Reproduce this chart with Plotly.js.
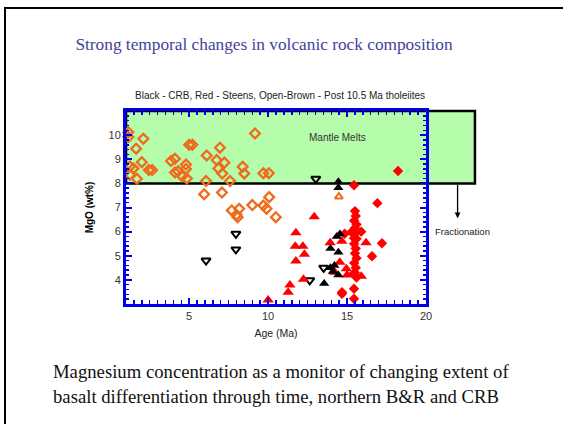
<!DOCTYPE html>
<html>
<head>
<meta charset="utf-8">
<script src="https://cdn.plot.ly/plotly-3.0.1.min.js"></script>
<style>
html,body{margin:0;padding:0;background:#fff;}
#frame{position:absolute;left:4px;top:7px;width:600px;height:500px;border-left:2.5px solid #000;border-top:2.5px solid #000;pointer-events:none;z-index:5;}
#chart{position:absolute;left:0;top:0;width:563px;height:424px;}
</style>
</head>
<body>
<div id="chart"></div>
<div id="frame"></div>
<script>
// ---- Data ----
// Post 10.5 Ma tholeiites (open brown/orange diamonds)
var postAge = [1.15,1.15,2.1,1.64,1.25,1.47,1.25,1.69,2.0,2.45,2.65,3.85,4.1,5.0,5.2,6.11,4.8,4.8,4.1,4.3,4.55,4.85,6.07,6.74,6.95,7.23,6.85,7.1,7.59,8.39,8.49,9.17,9.7,10.05,
               5.95,7.08,7.7,8.0,8.17,8.07,9.0,9.7,9.9,10.07,10.49];
var postMgO = [10.12,9.92,9.85,9.44,8.7,8.62,8.36,8.19,8.88,8.55,8.55,8.93,9.02,9.6,9.6,9.16,8.78,8.6,8.45,8.5,8.3,8.2,8.1,8.97,9.48,8.86,8.62,8.41,8.1,8.69,8.41,10.07,8.42,8.42,
               7.55,7.62,6.88,6.7,6.95,6.6,7.1,7.08,6.95,7.43,6.6];
// Post 10.5 Ma open triangle
var postTriAge = [14.48];
var postTriMgO = [7.45];
// CRB open inverted triangles (black)
var crbOpenAge = [6.07,7.96,7.96,13.02,13.52,12.64];
var crbOpenMgO = [4.8,5.91,5.26,8.19,4.5,3.98];
// CRB filled triangles (black)
var crbAge = [14.45,14.45,14.55,14.35,13.95,14.45,13.95,14.1,14.45,13.55,14.2];
var crbMgO = [8.07,7.82,5.9,5.8,5.3,5.15,4.5,4.35,4.2,3.85,4.6];
// Steens filled triangles (red)
var stTriAge = [12.92,11.76,11.72,12.2,12.3,11.76,12.24,11.38,11.27,10.0,13.93,14.67,16.2,14.54,14.96,15.9,14.22,15.0];
var stTriMgO = [6.62,5.95,5.39,5.39,5.06,4.78,4.03,3.79,3.49,3.17,5.54,5.6,5.54,4.73,4.46,4.15,4.32,4.2];
// Steens filled diamonds (red)
var stDiaAge = [18.23,15.44,16.92,14.85,15.44,15.9,17.21,16.58,14.68,15.44,15.44,15.27,14.68,
                15.5,15.55,15.45,15.6,15.5,15.5,15.6,15.45,15.55,15.5,15.6,15.45,15.55,15.5,15.6,15.4];
var stDiaMgO = [8.51,7.92,7.18,5.91,5.73,6.0,5.52,4.98,3.49,3.22,3.63,5.98,3.42,
                6.85,6.65,6.45,6.3,6.15,5.9,5.7,5.5,5.3,5.1,4.9,4.7,4.5,4.3,4.1,4.25];

// Axis ranges & tick labels
var XR = [1, 20], YR = [3, 11];
var xTicks = [5, 10, 15, 20];
var yTicks = [4, 5, 6, 7, 8, 9, 10];
// Reference values for the annotation box
var meltMgO = 8, boxRightAge = 23.1, arrowAge = 22, arrowTipMgO = 6.55;

function xp(v){ return (v - XR[0]) / (XR[1] - XR[0]); }
function yp(v){ return (v - YR[0]) / (YR[1] - YR[0]); }

var ORANGE = '#f06a1c', RED = '#ff0000', BLUE = '#0000e6';

var traces = [
  {x: postAge, y: postMgO, mode: 'markers', type: 'scatter', cliponaxis: false,
   marker: {symbol: 'diamond-open', size: 7.5, color: ORANGE, line: {width: 2.3, color: ORANGE}}},
  {x: postTriAge, y: postTriMgO, mode: 'markers', type: 'scatter',
   marker: {symbol: 'triangle-up-open', size: 7, color: ORANGE, line: {width: 2, color: ORANGE}}},
  {x: crbOpenAge, y: crbOpenMgO, mode: 'markers', type: 'scatter',
   marker: {symbol: 'triangle-down-open', size: 8, color: '#000', line: {width: 2, color: '#000'}}},
  {x: stTriAge, y: stTriMgO, mode: 'markers', type: 'scatter', cliponaxis: false,
   marker: {symbol: 'triangle-up', size: 10, color: RED, line: {width: 0}}},
  {x: stDiaAge, y: stDiaMgO, mode: 'markers', type: 'scatter',
   marker: {symbol: 'diamond', size: 8, color: RED, line: {width: 0}}},
  {x: crbAge, y: crbMgO, mode: 'markers', type: 'scatter',
   marker: {symbol: 'triangle-up', size: 9, color: '#000', line: {width: 0}}}
];

var font = 'Liberation Sans, Arial, sans-serif';
var serif = 'Liberation Serif, Times New Roman, serif';

var layout = {
  width: 563, height: 424,
  margin: {l: 126, r: 137, t: 111, b: 120},
  paper_bgcolor: '#fff', plot_bgcolor: 'rgba(0,0,0,0)',
  showlegend: false,
  title: {text: 'Strong temporal changes in volcanic rock composition',
          x: 0.469, xanchor: 'center', y: 0.896, yanchor: 'middle',
          font: {family: serif, size: 17.3, color: '#43439c'}},
  xaxis: {range: XR, tickvals: xTicks, ticks: 'inside', ticklen: 6, tickwidth: 2, tickcolor: BLUE,
          showline: true, linecolor: BLUE, linewidth: 3, mirror: 'allticks', showgrid: false, zeroline: false,
          minor: {dtick: 0.5, ticks: 'inside', ticklen: 4, tickwidth: 1.5, tickcolor: BLUE, showgrid: false},
          tickfont: {family: font, size: 11, color: '#333'},
          title: {text: 'Age (Ma)', standoff: 9, font: {family: font, size: 10.5, color: '#222'}}},
  yaxis: {range: YR, tickvals: yTicks, ticks: 'inside', ticklen: 6, tickwidth: 2, tickcolor: BLUE,
          showline: true, linecolor: BLUE, linewidth: 3, mirror: 'allticks', showgrid: false, zeroline: false,
          minor: {dtick: 0.2, ticks: 'inside', ticklen: 3, tickwidth: 1.5, tickcolor: BLUE, showgrid: false},
          tickfont: {family: font, size: 11, color: '#333'},
          title: {text: '<b>MgO (wt%)</b>', standoff: 14, font: {family: font, size: 10, color: '#000'}}},
  shapes: [
    {type: 'rect', layer: 'below', xref: 'paper', yref: 'paper',
     x0: xp(XR[0]), x1: xp(boxRightAge), y0: yp(meltMgO), y1: yp(YR[1]),
     fillcolor: '#b5fcab', line: {color: '#000', width: 2.5}}
  ],
  annotations: [
    {xref: 'x', yref: 'y', x: 14.4, y: 9.9, text: 'Mantle Melts', showarrow: false,
     xanchor: 'center', yanchor: 'middle', font: {family: font, size: 10, color: '#333'}},
    {xref: 'paper', yref: 'paper', x: xp(arrowAge), y: yp(arrowTipMgO), ax: 0, ay: -(yp(meltMgO) - yp(arrowTipMgO)) * 193,
     axref: 'pixel', ayref: 'pixel', text: '', showarrow: true, arrowhead: 2, arrowsize: 0.9, arrowwidth: 1.3, arrowcolor: '#000'},
    {xref: 'paper', yref: 'paper', x: 1.123, y: 0.378, xanchor: 'center', yanchor: 'middle', text: 'Fractionation', showarrow: false,
     font: {family: font, size: 9.5, color: '#222'}},
    {xref: 'paper', yref: 'paper', x: 0.513, y: 1.078, xanchor: 'center', yanchor: 'middle',
     text: 'Black - CRB, Red - Steens, Open-Brown - Post 10.5 Ma tholeiites',
     showarrow: false, font: {family: font, size: 10, color: '#222'}},
    {xref: 'paper', yref: 'paper', x: -0.25, y: -0.352, xanchor: 'left', yanchor: 'middle',
     text: 'Magnesium concentration as a monitor of changing extent of', showarrow: false,
     font: {family: serif, size: 18.7, color: '#111'}},
    {xref: 'paper', yref: 'paper', x: -0.25, y: -0.477, xanchor: 'left', yanchor: 'middle',
     text: 'basalt differentiation through time, northern B&amp;R and CRB', showarrow: false,
     font: {family: serif, size: 18.7, color: '#111'}}
  ]
};

Plotly.newPlot('chart', traces, layout, {displayModeBar: false, staticPlot: true});
</script>
</body>
</html>
